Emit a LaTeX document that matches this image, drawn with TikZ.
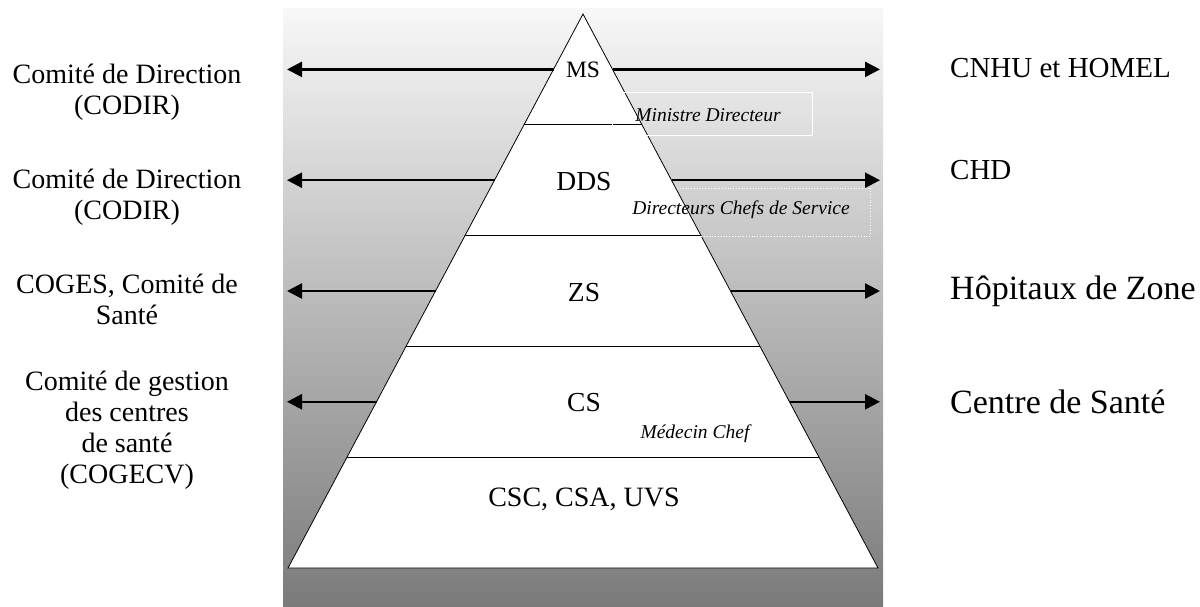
\documentclass[tikz,border=0pt]{standalone}
\usepackage{fontspec}
\setmainfont{Liberation Serif}
\usetikzlibrary{arrows.meta,calc}
\tikzset{lvl/.style={inner sep=0pt,anchor=base,font=\fontsize{27.5}{31}\selectfont},
side/.style={inner sep=0pt,align=center,font=\fontsize{28}{31}\selectfont},
dest/.style={inner sep=0pt,anchor=base west,font=\fontsize{29}{31}\selectfont},
role/.style={inner sep=0pt,anchor=base,font=\fontsize{19.5}{22}\selectfont\itshape},
box/.style={draw=white,line width=0.8pt},
arr/.style={line width=2.5pt,-{Triangle[length=15pt,width=15pt]}}}

\begin{document}
\begin{tikzpicture}[x=1pt,y=-1pt]
\useasboundingbox (0,0) rectangle (1200,606);
\shade[top color=white!97!black,bottom color=black!52] (283,8) rectangle (883,606);
% pyramid
\coordinate (top) at (583,14);
\coordinate (bl) at (288,568);
\coordinate (br) at (878,568);
\filldraw[fill=white,draw=black,line width=0.8pt] (top) -- (br) -- (bl) -- cycle;
\foreach \t in {0.2,0.4,0.6,0.8}
  \draw[line width=0.8pt] ($(top)!\t!(bl)$) -- ($(top)!\t!(br)$);
\draw[box] (612,92) rectangle (812,135);
\draw[box,dotted] (612,188) rectangle (870,236);
% arrows
\coordinate (lx) at (287,0);
\coordinate (rx) at (880,0);
\foreach \i/\t in {1/0.1,2/0.3,3/0.5,4/0.7}{
  \coordinate (pL\i) at ($(top)!\t!(bl)$);
  \coordinate (pR\i) at ($(top)!\t!(br)$);
  \coordinate (aL\i) at (pL\i -| lx);
  \coordinate (aR\i) at (pR\i -| rx);
  \path[arr] (pL\i) edge (aL\i);
  \path[arr] (pR\i) edge (aR\i);
}
% levels
\node[lvl,font=\fontsize{23.5}{26}\selectfont] (ms) at (583,77) {MS};
\node[lvl] (dds) at (584,190.5) {DDS};
\node[lvl] (zs) at (584,301.5) {ZS};
\node[lvl] (cs) at (584,411.5) {CS};
\node[lvl,font=\fontsize{28}{31}\selectfont] (csc) at (584,506.5) {CSC, CSA, UVS};
\node[role] (mdir) at (708,121.5) {Ministre Directeur};
\node[role] (dcs) at (741,214) {Directeurs Chefs de Service};
\node[role] (mc) at (695,438) {Médecin Chef};
% left side
\node[side] (codir1) at (127,92) {Comité de Direction\\(CODIR)};
\node[side] (codir2) at (127,197) {Comité de Direction\\(CODIR)};
\node[side] (coges) at (127,299) {COGES, Comité de\\Santé};
\node[side] (cogecv) at (127,430) {Comité de gestion\\des centres\\de santé\\(COGECV)};
% right side
\node[dest] (cnhu) at (950,77.6) {CNHU et HOMEL};
\node[dest] (chd) at (950,179.6) {CHD};
\node[dest,font=\fontsize{34}{36}\selectfont] (hz) at (950,299) {Hôpitaux de Zone};
\node[dest,font=\fontsize{34}{36}\selectfont] (csan) at (950,413) {Centre de Santé};
\end{tikzpicture}
\end{document}
